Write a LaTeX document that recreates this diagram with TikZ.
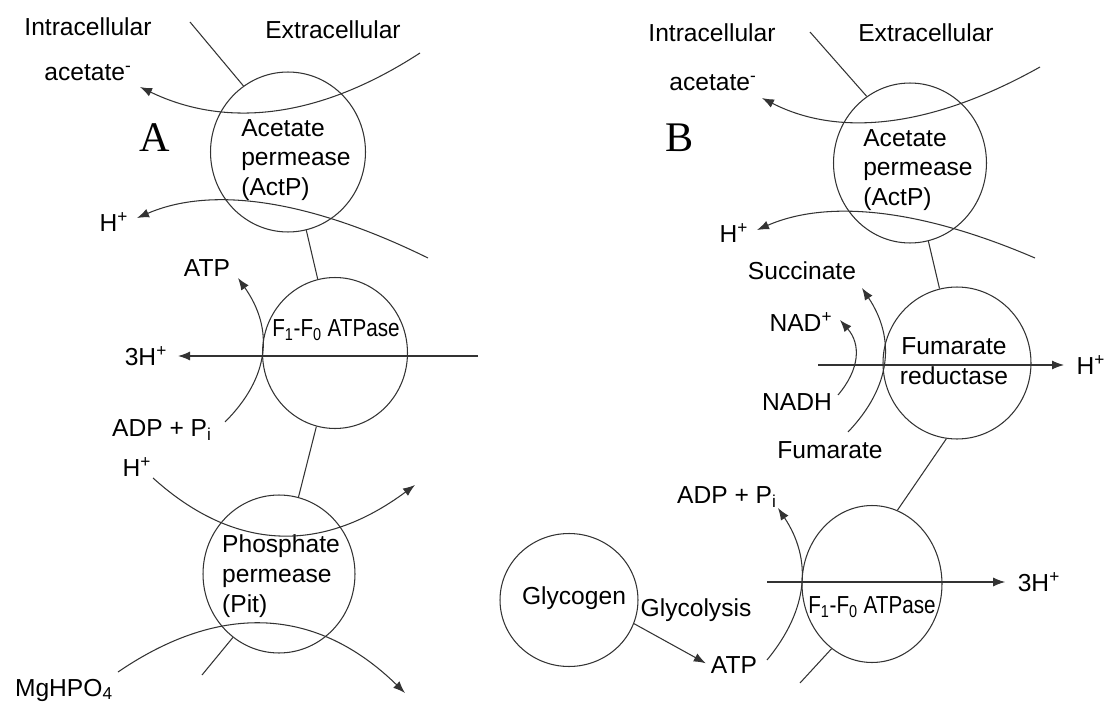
\documentclass[tikz,border=0pt]{standalone}
\usepackage{fontspec}
\setmainfont{Liberation Sans}
\newfontfamily\panelfont{Liberation Serif}
\usetikzlibrary{shapes,arrows.meta}

\begin{document}
\begin{tikzpicture}[x=0.02cm,y=-0.02cm,
    every node/.style={font=\fontsize{14}{17}\selectfont,inner sep=1pt},
    enz/.style={draw=black!80,line width=0.6pt,ellipse,inner sep=0pt},
    memb/.style={draw=black!80,line width=0.6pt},
    arr/.style={draw=black!80,line width=0.6pt,-{Latex[length=2.4mm,width=1.8mm]}},
    panel/.style={font=\panelfont\fontsize{24}{24}\selectfont}]
  \useasboundingbox (0,0) rectangle (1110,713);

  %%%%%%%%%%%%%%%%%%%% Panel A %%%%%%%%%%%%%%%%%%%%
  % headings
  \node (intraA) at (88,27) {Intracellular};
  \node (extraA) at (333,30) {Extracellular};
  \node[panel] (pA) at (155,138) {A};
  % enzymes
  \node[enz,minimum width=3.1cm,minimum height=3.2cm] (actA) at (288,152) {};
  \node[align=left] (actAtxt) at (296,160) {Acetate\\permease\\(ActP)};
  \node[enz,minimum width=2.9cm,minimum height=3.02cm] (atpA) at (335,353) {};
  \node (atpAtxt) at (336,330) {\scalebox{0.84}[1]{F\textsubscript{1}-F\textsubscript{0} ATPase}};
  \node[enz,minimum width=3.04cm,minimum height=3.16cm] (pitA) at (279,574) {};
  \node[align=left] (pitAtxt) at (281,576) {Phosphate\\permease\\(Pit)};
  % membrane
  \coordinate (mA0) at (190,22);
  \coordinate (mA1) at (202,675);
  \draw[memb] (mA0) -- (actA.124);
  \draw[memb] (actA) -- (atpA);
  \draw[memb] (atpA) -- (pitA);
  \draw[memb] (pitA.234) -- (mA1);
  % acetate out
  \node (acA) at (88,73) {acetate\textsuperscript{-}};
  \coordinate (acAs) at (420,53);
  \coordinate (acAe) at (140,87);
  \draw[arr] (acAs) .. controls (320,118) and (227,129) .. (acAe);
  % proton with acetate
  \node (hA1) at (114,222) {H\textsuperscript{+}};
  \coordinate (hA1s) at (428,258);
  \coordinate (hA1e) at (137,218);
  \draw[arr] (hA1s) .. controls (308,199) and (211,186) .. (hA1e);
  % ATP synthesis
  \node (atpAl) at (207,268) {ATP};
  \node (adpAl) at (162,430) {ADP + P\textsubscript{i}};
  \coordinate (adpAs) at (225,422);
  \coordinate (adpAe) at (238,278);
  \draw[arr] (adpAs) .. controls (270,377) and (274,329) .. (adpAe);
  % 3H+ through ATPase
  \node (thA) at (146,356) {3H\textsuperscript{+}};
  \coordinate (thAs) at (478,356);
  \draw[arr,shorten >=5pt] (thAs) -- (thA);
  % proton with phosphate
  \node (hA2) at (137,467) {H\textsuperscript{+}};
  \coordinate (hA2s) at (153,478);
  \coordinate (hA2e) at (415,485);
  \draw[arr] (hA2s) .. controls (235,552) and (322,554) .. (hA2e);
  % phosphate
  \node (mgA) at (64,690) {MgHPO\textsubscript{4}};
  \coordinate (mgAs) at (118,672);
  \coordinate (mgAe) at (405,693);
  \draw[arr] (mgAs) .. controls (222,601) and (318,608) .. (mgAe);

  %%%%%%%%%%%%%%%%%%%% Panel B %%%%%%%%%%%%%%%%%%%%
  % headings
  \node (intraB) at (712,33) {Intracellular};
  \node (extraB) at (926,33) {Extracellular};
  \node[panel] (pB) at (680,138) {B};
  % enzymes
  \node[enz,minimum width=3.06cm,minimum height=3.2cm] (actB) at (910,163) {};
  \node[align=left] (actBtxt) at (918,170) {Acetate\\permease\\(ActP)};
  \node[enz,minimum width=2.96cm,minimum height=3.04cm] (fumB) at (957,363) {};
  \node[align=center] (fumBtxt) at (954,361) {Fumarate\\reductase};
  \node[enz,minimum width=2.8cm,minimum height=3.14cm] (atpB) at (872,584) {};
  \node (atpBtxt) at (872,607) {\scalebox{0.84}[1]{F\textsubscript{1}-F\textsubscript{0} ATPase}};
  \node[enz,minimum width=2.76cm,minimum height=2.66cm] (glyc) at (569,600) {};
  \node (glyctxt) at (574,598) {Glycogen};
  % membrane
  \coordinate (mB0) at (810,32);
  \coordinate (mB1) at (800,683);
  \draw[memb] (mB0) -- (actB.123);
  \draw[memb] (actB) -- (fumB);
  \draw[memb] (fumB.262) -- (atpB.71);
  \draw[memb] (atpB.238) -- (mB1);
  % acetate out
  \node (acB) at (713,83) {acetate\textsuperscript{-}};
  \coordinate (acBs) at (1040,67);
  \coordinate (acBe) at (762,98);
  \draw[arr] (acBs) .. controls (933,127) and (840,138) .. (acBe);
  % proton with acetate
  \node (hB1) at (734,233) {H\textsuperscript{+}};
  \coordinate (hB1s) at (1035,258);
  \coordinate (hB1e) at (757,230);
  \draw[arr] (hB1s) .. controls (921,209) and (828,199) .. (hB1e);
  % fumarate reduction
  \node (sucB) at (802,271) {Succinate};
  \node (fumBl) at (830,450) {Fumarate};
  \coordinate (sucBs) at (848,432);
  \coordinate (sucBe) at (862,288);
  \draw[arr] (sucBs) .. controls (891,387) and (896,339) .. (sucBe);
  \node (nadB) at (801,322) {NAD\textsuperscript{+}};
  \node (nadhB) at (797,402) {NADH};
  \coordinate (nadBs) at (838,395);
  \coordinate (nadBe) at (840,320);
  \draw[arr] (nadBs) .. controls (860,369) and (861,344) .. (nadBe);
  % proton out through reductase
  \node (hB2) at (1091,365) {H\textsuperscript{+}};
  \coordinate (hB2s) at (818,365);
  \draw[arr,shorten >=6pt] (hB2s) -- (hB2);
  % ATP hydrolysis
  \node (adpBl) at (727,497) {ADP + P\textsubscript{i}};
  \node (atpBl) at (734,665) {ATP};
  \coordinate (adpBs) at (767,660);
  \coordinate (adpBe) at (778,508);
  \draw[arr] (adpBs) .. controls (809,609) and (812,559) .. (adpBe);
  % 3H+ out through ATPase
  \node (thB) at (1039,582) {3H\textsuperscript{+}};
  \coordinate (thBs) at (767,582);
  \draw[arr,shorten >=6pt] (thBs) -- (thB);
  % glycolysis
  \node (glycl) at (696,610) {Glycolysis};
  \draw[arr,shorten >=2pt] (glyc.-20) -- (atpBl.west);
\end{tikzpicture}
\end{document}
